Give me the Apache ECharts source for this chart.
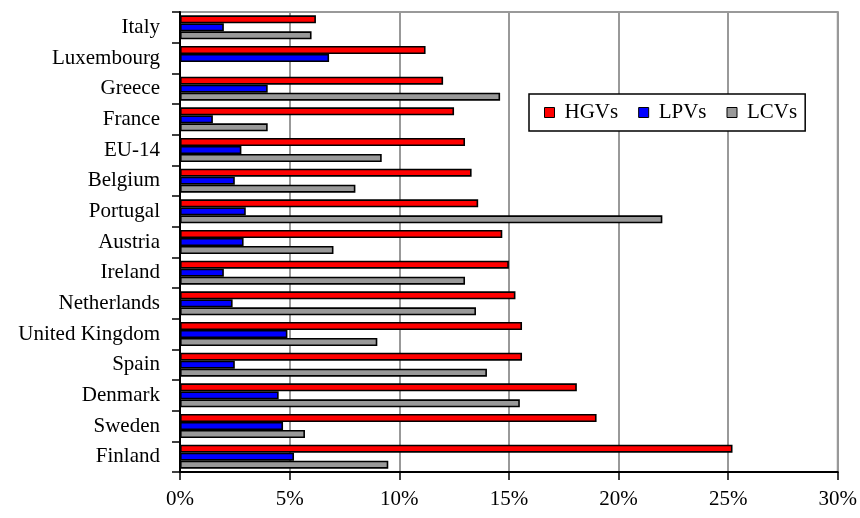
<!DOCTYPE html>
<html>
<head>
<meta charset="utf-8">
<script src="https://cdn.jsdelivr.net/npm/echarts@6/dist/echarts.min.js"></script>
<style>
  html, body { margin: 0; padding: 0; background: #fff; }
  #chart { width: 860px; height: 518px; }
</style>
</head>
<body>
<div id="chart"></div>
<script>
// Countries, listed top to bottom
const countries = ['Italy', 'Luxembourg', 'Greece', 'France', 'EU-14', 'Belgium', 'Portugal',
  'Austria', 'Ireland', 'Netherlands', 'United Kingdom', 'Spain', 'Denmark', 'Sweden', 'Finland'];

// Shares in percent, same order as countries
const hgvs = [6.2, 11.2, 12.0, 12.5, 13.0, 13.3, 13.6, 14.7, 15.0, 15.3, 15.6, 15.6, 18.1, 19.0, 25.2];
const lpvs = [2.0, 6.8, 4.0, 1.5, 2.8, 2.5, 3.0, 2.9, 2.0, 2.4, 4.9, 2.5, 4.5, 4.7, 5.2];
const lcvs = [6.0, 0, 14.6, 4.0, 9.2, 8.0, 22.0, 7.0, 13.0, 13.5, 9.0, 14.0, 15.5, 5.7, 9.5];

// Value axis ticks
const xMin = 0, xMax = 30, xStep = 5;

const serif = '"Liberation Serif", "DejaVu Serif", serif';

function barSeries(name, data, color) {
  return {
    name: name,
    type: 'bar',
    data: data,
    barWidth: 8,
    barGap: '0%',
    itemStyle: { color: color, borderColor: '#000', borderWidth: 1.6 },
    emphasis: { disabled: true }
  };
}

const chart = echarts.init(document.getElementById('chart'), null, { renderer: 'canvas' });
chart.setOption({
  animation: false,
  backgroundColor: '#fff',
  grid: {
    left: 180, right: 22, top: 12, bottom: 46,
    show: true, borderColor: '#999', borderWidth: 2, backgroundColor: 'transparent'
  },
  legend: {
    data: ['HGVs', 'LPVs', 'LCVs'],
    left: 529, top: 94,
    orient: 'horizontal',
    backgroundColor: '#fff',
    borderColor: '#000',
    borderWidth: 1.5,
    padding: [8, 8, 8, 15],
    itemWidth: 10, itemHeight: 10,
    itemGap: 20,
    icon: 'rect',
    itemStyle: { borderColor: '#000', borderWidth: 1 },
    textStyle: { fontFamily: serif, fontSize: 21, color: '#000', padding: [0, 0, 0, 5] }
  },
  xAxis: {
    type: 'value',
    min: xMin, max: xMax, interval: xStep,
    axisLine: { show: true, lineStyle: { color: '#000', width: 2 } },
    axisTick: { show: true, length: 8, lineStyle: { color: '#000', width: 1.5 } },
    axisLabel: { formatter: '{value}%', fontFamily: serif, fontSize: 21, color: '#000', margin: 17 },
    splitLine: { show: true, lineStyle: { color: '#999', width: 2 } }
  },
  yAxis: {
    type: 'category',
    data: countries,
    inverse: true,
    axisLine: { show: true, lineStyle: { color: '#000', width: 2 } },
    axisTick: { show: true, length: 8, lineStyle: { color: '#000', width: 1.5 } },
    axisLabel: { fontFamily: serif, fontSize: 21, color: '#000', margin: 20 },
    splitLine: { show: false }
  },
  series: [
    barSeries('HGVs', hgvs, '#ff0000'),
    barSeries('LPVs', lpvs, '#0000ff'),
    barSeries('LCVs', lcvs, '#999999')
  ]
});
</script>
</body>
</html>
